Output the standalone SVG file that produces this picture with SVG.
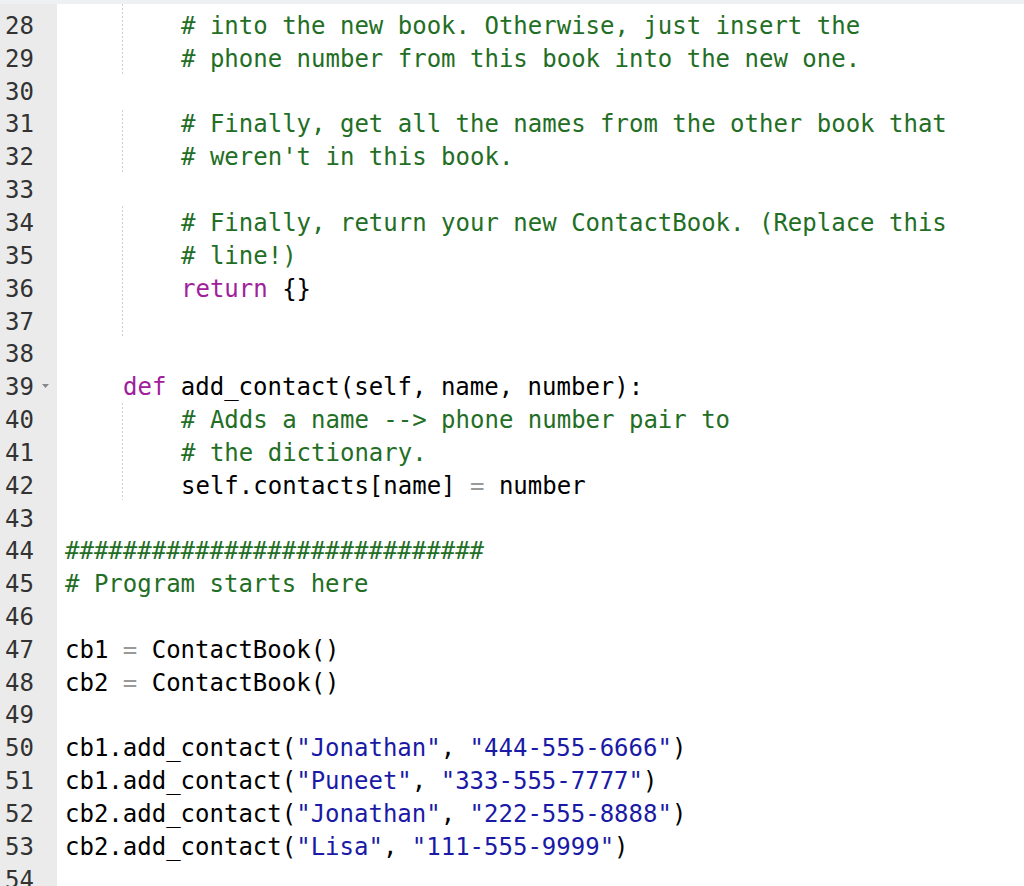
<svg xmlns="http://www.w3.org/2000/svg" width="1024" height="886" viewBox="0 0 1024 886">
<style>
text{font-family:"DejaVu Sans Mono","Liberation Mono",monospace;font-size:24px;white-space:pre}
.n{fill:#333}
.c{fill:#236e25}
.k{fill:#a0209c}
.s{fill:#1a1aa6}
.t{fill:#000}
.o{fill:#999}
.g{stroke:#d0d0d0;stroke-width:1;stroke-dasharray:2 2}
</style>
<rect width="1024" height="886" fill="#fff"/>
<rect width="1024" height="4" fill="#eef0f3"/>
<rect x="0" y="4" width="57" height="882" fill="#ebebeb"/>
<g id="guides">
<line class="g" x1="122.5" y1="4" x2="122.5" y2="74"/>
<line class="g" x1="122.5" y1="110" x2="122.5" y2="174"/>
<line class="g" x1="122.5" y1="206" x2="122.5" y2="336"/>
<line class="g" x1="122.5" y1="403" x2="122.5" y2="500"/>
</g>
<g id="linenumbers" class="n">
<text x="5" y="34">28</text><text x="5" y="67">29</text><text x="5" y="100">30</text>
<text x="5" y="132">31</text><text x="5" y="165">32</text><text x="5" y="198">33</text>
<text x="5" y="231">34</text><text x="5" y="264">35</text><text x="5" y="297">36</text>
<text x="5" y="330">37</text><text x="5" y="362">38</text><text x="5" y="395">39</text>
<text x="5" y="428">40</text><text x="5" y="461">41</text><text x="5" y="494">42</text>
<text x="5" y="527">43</text><text x="5" y="559">44</text><text x="5" y="592">45</text>
<text x="5" y="625">46</text><text x="5" y="658">47</text><text x="5" y="691">48</text>
<text x="5" y="723">49</text><text x="5" y="756">50</text><text x="5" y="789">51</text>
<text x="5" y="822">52</text><text x="5" y="855">53</text><text x="5" y="888">54</text>
<path d="M42 384 L49 384 L45.5 388 Z" fill="#888"/>
</g>
<g id="code">
<text x="181" y="34" class="c"># into the new book. Otherwise, just insert the</text>
<text x="181" y="67" class="c"># phone number from this book into the new one.</text>
<text x="181" y="132" class="c"># Finally, get all the names from the other book that</text>
<text x="181" y="165" class="c"># weren't in this book.</text>
<text x="181" y="231" class="c"># Finally, return your new ContactBook. (Replace this</text>
<text x="181" y="264" class="c"># line!)</text>
<text x="181" y="297"><tspan class="k">return</tspan><tspan class="t"> {}</tspan></text>
<text x="123" y="395"><tspan class="k">def</tspan><tspan class="t"> add_contact(self, name, number):</tspan></text>
<text x="181" y="428" class="c"># Adds a name --&gt; phone number pair to</text>
<text x="181" y="461" class="c"># the dictionary.</text>
<text x="181" y="494"><tspan class="t">self.contacts[name] </tspan><tspan class="o">=</tspan><tspan class="t"> number</tspan></text>
<text x="65" y="559" class="c">#############################</text>
<text x="65" y="592" class="c"># Program starts here</text>
<text x="65" y="658"><tspan class="t">cb1 </tspan><tspan class="o">=</tspan><tspan class="t"> ContactBook()</tspan></text>
<text x="65" y="691"><tspan class="t">cb2 </tspan><tspan class="o">=</tspan><tspan class="t"> ContactBook()</tspan></text>
<text x="65" y="756"><tspan class="t">cb1.add_contact(</tspan><tspan class="s">"Jonathan"</tspan><tspan class="t">, </tspan><tspan class="s">"444-555-6666"</tspan><tspan class="t">)</tspan></text>
<text x="65" y="789"><tspan class="t">cb1.add_contact(</tspan><tspan class="s">"Puneet"</tspan><tspan class="t">, </tspan><tspan class="s">"333-555-7777"</tspan><tspan class="t">)</tspan></text>
<text x="65" y="822"><tspan class="t">cb2.add_contact(</tspan><tspan class="s">"Jonathan"</tspan><tspan class="t">, </tspan><tspan class="s">"222-555-8888"</tspan><tspan class="t">)</tspan></text>
<text x="65" y="855"><tspan class="t">cb2.add_contact(</tspan><tspan class="s">"Lisa"</tspan><tspan class="t">, </tspan><tspan class="s">"111-555-9999"</tspan><tspan class="t">)</tspan></text>
</g>
</svg>
